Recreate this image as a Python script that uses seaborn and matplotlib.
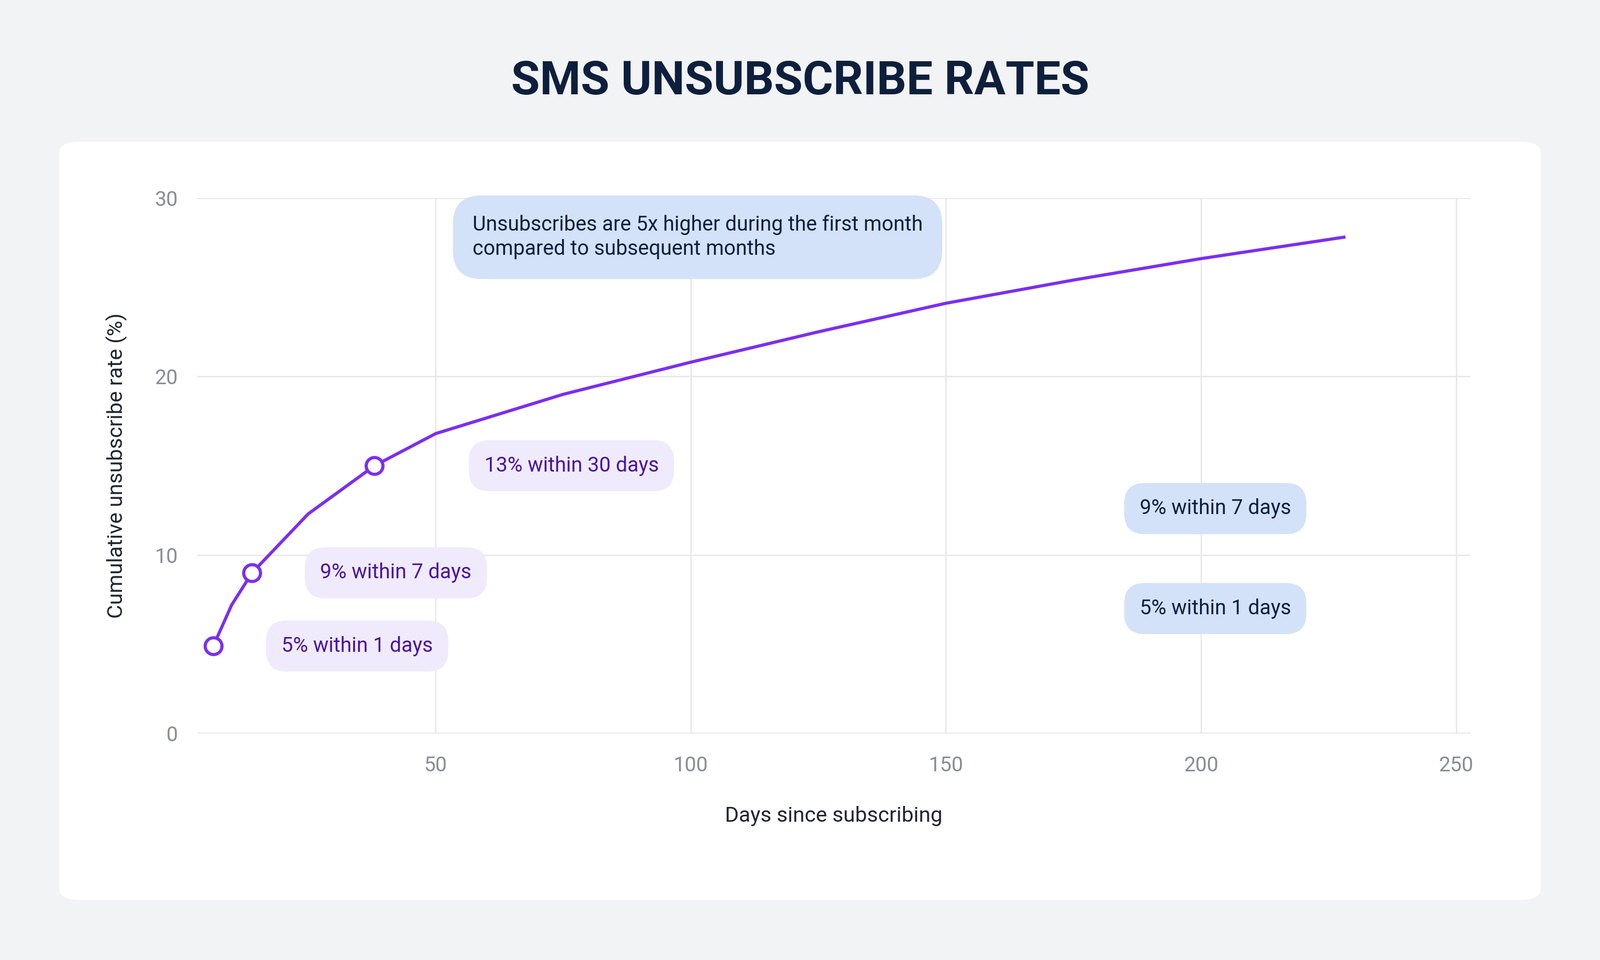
import matplotlib
matplotlib.use("Agg")
import matplotlib.pyplot as plt
import seaborn as sns
import pandas as pd
from matplotlib.patches import FancyBboxPatch

days = [6.4, 10, 14, 25, 38, 50, 75, 100, 125, 150, 175, 200, 228]
rate = [4.9, 7.2, 9.0, 12.3, 15.0, 16.8, 19.0, 20.8, 22.5, 24.1, 25.4, 26.6, 27.8]
marker_days = [6.4, 14, 38]
marker_rate = [4.9, 9.0, 15.0]
curve_labels = ["5% within 1 days", "9% within 7 days", "13% within 30 days"]
curve_label_x = [34.6, 42.2, 76.6]
side_labels = ["9% within 7 days", "5% within 1 days"]
side_label_y = [12.6, 7.0]
callout = "Unsubscribes are 5x higher during the first month\ncompared to subsequent months"
x_ticks = [50, 100, 150, 200, 250]
y_ticks = [0, 10, 20, 30]

plt.rcParams["font.family"] = "Roboto"
PURPLE = "#7b2ff0"
fig = plt.figure(figsize=(16.2, 9.72), dpi=200, facecolor="#f2f3f5")
card = FancyBboxPatch((58/1568, 1-882/941), (1510-58)/1568, (882-139)/941,
                      boxstyle="round,pad=0,rounding_size=0.012",
                      transform=fig.transFigure, facecolor="white", edgecolor="none", zorder=-10)
fig.patches.append(card)
fig.text(0.5, 1-80/941, "SMS UNSUBSCRIBE RATES", ha="center", va="center",
         fontsize=34, fontweight="heavy", color="#0d1f3c")

ax = fig.add_axes([193/1568, 1-719/941, (1441-193)/1568, (719-194)/941], zorder=5)
ax.set_facecolor("none")
df = pd.DataFrame({"days": days, "rate": rate})
sns.lineplot(data=df, x="days", y="rate", ax=ax, color=PURPLE, linewidth=2.3, zorder=3)
ax.scatter(marker_days, marker_rate, s=150, facecolor="white", edgecolor=PURPLE, linewidth=2.3, zorder=4)

ax.set_xlim(3.2, 252.8)
ax.set_ylim(0, 30)
ax.set_xticks(x_ticks)
ax.set_yticks(y_ticks)
ax.grid(True, color="#e8e8ea", linewidth=1)
ax.axhline(0, color="#d8d8dc", linewidth=1.2)
for s in ax.spines.values():
    s.set_visible(False)
ax.tick_params(length=0, labelsize=15, labelcolor="#8a8d93")
ax.tick_params(axis="x", pad=16)
ax.tick_params(axis="y", pad=14)
ax.set_xlabel("Days since subscribing", fontsize=15.5, color="#1f2430", labelpad=22)
ax.set_ylabel("Cumulative unsubscribe rate (%)", fontsize=15.5, color="#1f2430", labelpad=20)

for lx, ly, t in zip(curve_label_x, marker_rate, curve_labels):
    ax.text(lx, ly, t, ha="center", va="center", fontsize=15, color="#4a14a0", zorder=5,
            bbox=dict(boxstyle="round,pad=0.75,rounding_size=1.0", fc="#efebfd", ec="none"))
for ly, t in zip(side_label_y, side_labels):
    ax.text(202.8, ly, t, ha="center", va="center", fontsize=15, color="#0d1f3c", zorder=5,
            bbox=dict(boxstyle="round,pad=0.75,rounding_size=1.0", fc="#d3e2f8", ec="none"))
ax.text(57.2, 27.8, callout, ha="left", va="center", fontsize=15, color="#0d1f3c",
        linespacing=1.25, zorder=5,
        bbox=dict(boxstyle="round,pad=0.95,rounding_size=1.4", fc="#d3e2f8", ec="none"))

fig.savefig("out.png", dpi=200, facecolor=fig.get_facecolor())
